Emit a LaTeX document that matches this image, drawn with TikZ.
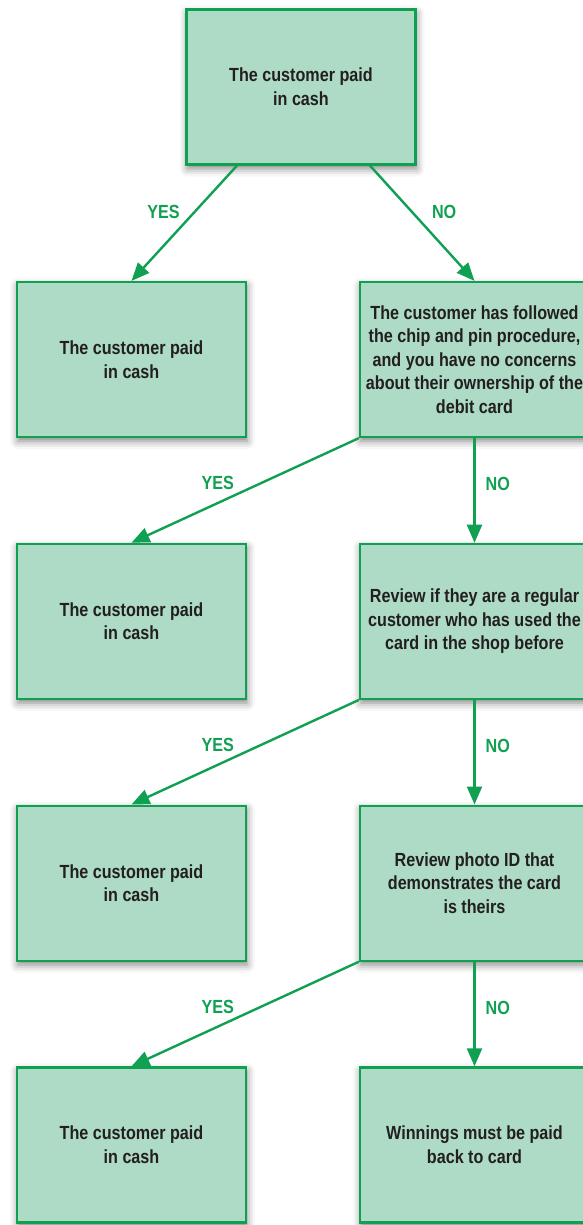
\documentclass[tikz,border=0pt]{standalone}
\usepackage{fontspec}
\setmainfont{Liberation Sans}[FakeStretch=0.85]
\usetikzlibrary{arrows.meta,positioning,shadows.blur}
\definecolor{boxgreen}{RGB}{173,219,197}
\definecolor{linegreen}{RGB}{16,160,82}
\definecolor{textgray}{RGB}{35,31,32}

\begin{document}
\begin{tikzpicture}[x=0.5pt, y=-0.5pt,
    box/.style={draw=linegreen, line width=1.1pt, fill=boxgreen, align=center, inner sep=2pt, text=textgray, font=\fontsize{9.5}{11.8}\selectfont\bfseries, minimum width=114.5pt, minimum height=77.5pt, blur shadow={shadow xshift=0.5pt, shadow yshift=-2pt, shadow blur radius=4pt, shadow opacity=50}},
    answer/.style={text=linegreen, inner sep=0pt, font=\fontsize{9.5}{11.8}\selectfont\bfseries},
    arrow/.style={-{Triangle[length=9pt, width=7.5pt]}, line width=1.2pt, draw=linegreen},
    node distance=52.3pt
  ]
    \useasboundingbox (0,0) rectangle (583,1225);
    \clip (0,0) rectangle (583,1225);
    \node[box] (cash) at (301,87) {The customer paid\\in cash};
    \node[box] (yes1) at (131.5,359.5) {The customer paid\\in cash};
    \node[box] (chip) at (474.5,359.5) {The customer has followed\\the chip and pin procedure,\\and you have no concerns\\about their ownership of the\\debit card};
    \node[box, below=of yes1] (yes2) {The customer paid\\in cash};
    \node[box, below=of chip] (regular) {Review if they are a regular\\customer who has used the\\card in the shop before};
    \node[box, below=of yes2] (yes3) {The customer paid\\in cash};
    \node[box, below=of regular] (photo) {Review photo ID that\\demonstrates the card\\is theirs};
    \node[box, below=of yes3] (yes4) {The customer paid\\in cash};
    \node[box, below=of photo] (refund) {Winnings must be paid\\back to card};
    \draw[arrow] ([xshift=-32pt]cash.south) -- node[answer, pos=0.4, left=7pt] {YES} (yes1.north);
    \draw[arrow] ([xshift=34.5pt]cash.south) -- node[answer, pos=0.4, right=9.5pt] {NO} (chip.north);
    \draw[arrow] (chip.south west) -- node[answer, pos=0.43, left=13pt] {YES} (yes2.north);
    \draw[arrow] (chip.south) -- node[answer, pos=0.44, right=5pt] {NO} (regular.north);
    \draw[arrow] (regular.south west) -- node[answer, pos=0.43, left=13pt] {YES} (yes3.north);
    \draw[arrow] (regular.south) -- node[answer, pos=0.44, right=5pt] {NO} (photo.north);
    \draw[arrow] (photo.south west) -- node[answer, pos=0.43, left=13pt] {YES} (yes4.north);
    \draw[arrow] (photo.south) -- node[answer, pos=0.44, right=5pt] {NO} (refund.north);
  \end{tikzpicture}
\end{document}
